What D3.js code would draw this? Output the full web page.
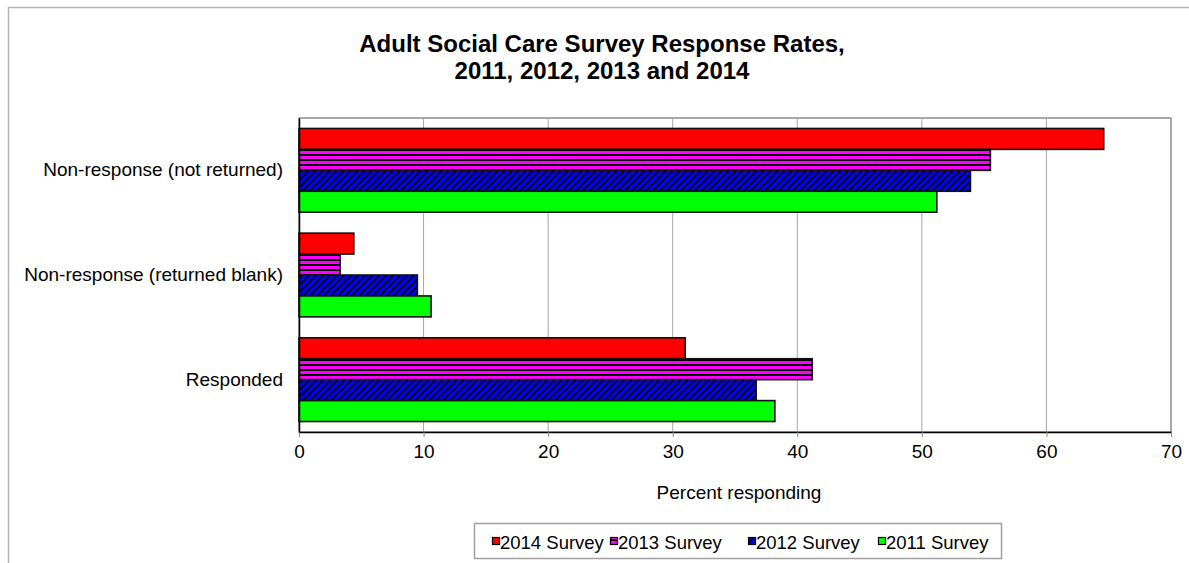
<!DOCTYPE html>
<html><head><meta charset="utf-8">
<script src="https://cdn.jsdelivr.net/npm/d3@7"></script>
<style>
body{margin:0;background:#fff;}
svg{display:block;font-family:"Liberation Sans",Arial,sans-serif;}
</style></head>
<body><svg id="c" width="1189" height="563"></svg>
<script>
const categories = ["Non-response (not returned)", "Non-response (returned blank)", "Responded"];
const seriesNames = ["2014 Survey", "2013 Survey", "2012 Survey", "2011 Survey"];
const values2014 = [64.6, 4.4, 31.0];
const values2013 = [55.5, 3.3, 41.2];
const values2012 = [53.9, 9.5, 36.7];
const values2011 = [51.2, 10.6, 38.2];
const xTicks = [0, 10, 20, 30, 40, 50, 60, 70];
const titleLines = ["Adult Social Care Survey Response Rates,", "2011, 2012, 2013 and 2014"];
const xLabel = "Percent responding";

const seriesValues = [values2014, values2013, values2012, values2011];
const fills = ["url(#pRed)", "url(#pMag)", "url(#pBlue)", "url(#pGreen)"];

const svg = d3.select("#c");
const defs = svg.append("defs");
let p = defs.append("pattern").attr("id","pRed").attr("patternUnits","userSpaceOnUse").attr("width",4).attr("height",4);
p.append("rect").attr("width",4).attr("height",4).attr("fill","#ff0000");
p = defs.append("pattern").attr("id","pGreen").attr("patternUnits","userSpaceOnUse").attr("width",4).attr("height",4);
p.append("rect").attr("width",4).attr("height",4).attr("fill","#00ff00");
p = defs.append("pattern").attr("id","pMag").attr("patternUnits","userSpaceOnUse").attr("width",5).attr("height",5).attr("y",1);
p.append("rect").attr("width",5).attr("height",5).attr("fill","#000");
p.append("rect").attr("width",5).attr("height",3).attr("fill","#ff00ff");
p = defs.append("pattern").attr("id","pBlue").attr("patternUnits","userSpaceOnUse").attr("width",7).attr("height",7);
p.append("rect").attr("width",7).attr("height",7).attr("fill","#000");
p.append("path").attr("d","M-1,8 L8,-1 M-2,2 L2,-2 M5,9 L9,5").attr("stroke","#0000ff").attr("stroke-width",3.1);

svg.append("rect").attr("x",8.5).attr("y",7.5).attr("width",1300).attr("height",700)
  .attr("fill","none").attr("stroke","#b4b4b4").attr("stroke-width",1.5);

const L = 299, R = 1171, T = 118, B = 432;
const x = d3.scaleLinear().domain([0, 70]).range([L, R]);
const y = d3.scaleBand().domain(categories).range([T, B]).paddingInner(0.2).paddingOuter(0.1);
const ys = d3.scaleBand().domain(seriesNames).range([0, y.bandwidth()]);

svg.append("rect").attr("x",L).attr("y",T).attr("width",R-L).attr("height",B-T)
  .attr("fill","#fff").attr("stroke","#8c8c8c").attr("stroke-width",1.5);

svg.append("g").selectAll("line").data(xTicks.filter(d=>d>0&&d<70)).join("line")
  .attr("x1",d=>x(d)).attr("x2",d=>x(d)).attr("y1",T).attr("y2",B)
  .attr("stroke","#a6a6a6").attr("stroke-width",1);

const g = svg.append("g");
categories.forEach((c, ci) => {
  seriesNames.forEach((s, si) => {
    g.append("rect")
      .attr("x", x(0))
      .attr("y", y(c) + ys(s))
      .attr("width", x(seriesValues[si][ci]) - x(0))
      .attr("height", ys.bandwidth())
      .attr("fill", fills[si])
      .attr("stroke", "#111").attr("stroke-width", 1.6);
  });
});

const xAxis = d3.axisBottom(x).tickValues(xTicks).tickSize(5).tickPadding(8).tickSizeOuter(0);
const xa = svg.append("g").attr("transform",`translate(0,${B})`).call(xAxis);
xa.select(".domain").attr("stroke","#000").attr("stroke-width",1.5);
xa.selectAll(".tick line").attr("stroke","#8c8c8c");
xa.selectAll("text").attr("font-size","19px").attr("fill","#000").attr("font-family","Liberation Sans, Arial, sans-serif");

const yAxis = d3.axisLeft(y).tickSize(0).tickPadding(16);
const ya = svg.append("g").attr("transform",`translate(${L},0)`).call(yAxis);
ya.select(".domain").attr("stroke","#000").attr("stroke-width",1.5);
ya.selectAll("text").attr("font-size","19px").attr("fill","#000").attr("font-family","Liberation Sans, Arial, sans-serif");

svg.append("text").attr("x",(L+R)/2 + 4).attr("y",499).attr("text-anchor","middle")
  .attr("font-size","19px").text(xLabel);

titleLines.forEach((t,i)=>{
  svg.append("text").attr("x",602).attr("y",52+i*27).attr("text-anchor","middle")
    .attr("font-size","24px").attr("font-weight","bold").text(t);
});

svg.append("rect").attr("x",474.5).attr("y",523.5).attr("width",527).attr("height",35)
  .attr("fill","#fff").attr("stroke","#a0a0a0").attr("stroke-width",1.5);
const legX = [492, 610, 748, 878];
seriesNames.forEach((s,i)=>{
  svg.append("rect").attr("x",legX[i]+0.5).attr("y",537.5).attr("width",7).attr("height",7)
    .attr("fill",fills[i]).attr("stroke","#000").attr("stroke-width",1.2);
  svg.append("text").attr("x",legX[i]+8).attr("y",549).attr("font-size","18.5px").text(s);
});
</script></body></html>
